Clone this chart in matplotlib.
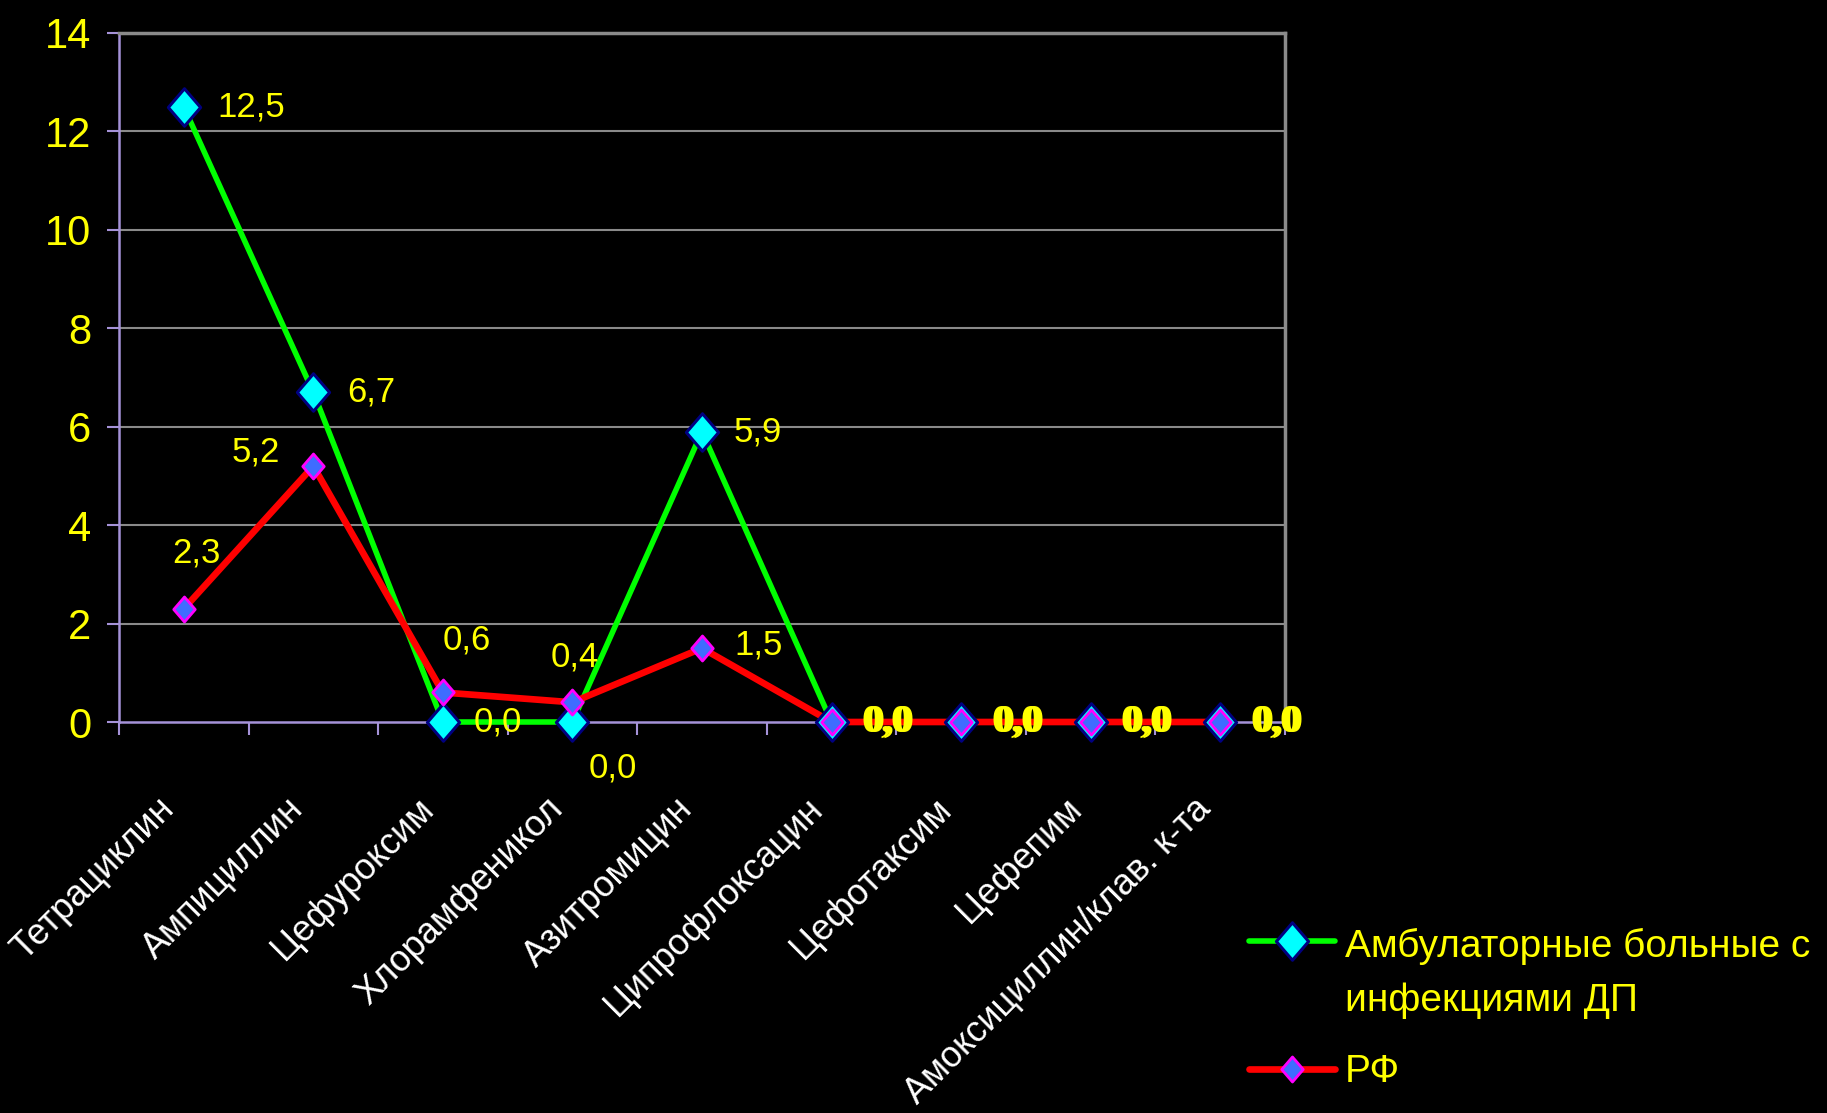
import matplotlib
matplotlib.use("Agg")
import matplotlib.pyplot as plt
from matplotlib import font_manager as fm
from matplotlib.lines import Line2D
from matplotlib.path import Path
from matplotlib.transforms import ScaledTranslation
import numpy as np

# ---- data -------------------------------------------------------------
categories = [
    "Тетрациклин", "Ампициллин", "Цефуроксим", "Хлорамфеникол",
    "Азитромицин", "Ципрофлоксацин", "Цефотаксим", "Цефепим",
    "Амоксициллин/клав. к-та",
]
ambulatory = [12.5, 6.7, 0.0, 0.0, 5.9, 0.0, 0.0, 0.0, 0.0]
rf = [2.3, 5.2, 0.6, 0.4, 1.5, 0.0, 0.0, 0.0, 0.0]
series_names = ["Амбулаторные больные с\nинфекциями ДП", "РФ"]
yticks = [0, 2, 4, 6, 8, 10, 12, 14]

# label offsets in pixels (dx, dy, ha) for each point
amb_label_pos = [(34, 0, "left"), (34, 0, "left"), (31, 0, "left"),
                 (40, -46, "center"), (32, 0, "left"), (30, 0, "left"),
                 (30, 0, "left"), (30, 0, "left"), (30, 0, "left")]
rf_label_pos = [(13, 56, "center"), (-58, 14, "center"), (24, 52, "center"),
                (2, 45, "center"), (32, 3, "left"), (33, 0, "left"),
                (33, 0, "left"), (33, 0, "left"), (33, 0, "left")]


def has_font(name):
    try:
        fm.findfont(fm.FontProperties(family=name), fallback_to_default=False)
        return True
    except Exception:
        return False


BASE = "Liberation Sans" if has_font("Liberation Sans") else "DejaVu Sans"
if has_font("Liberation Sans Narrow"):
    NARROW, cat_size, leg_size = "Liberation Sans Narrow", 31, 33
else:
    NARROW, cat_size, leg_size = BASE, 26, 28
SERIF = "Liberation Serif" if has_font("Liberation Serif") else "DejaVu Serif"

plt.rcParams["font.family"] = [BASE, "DejaVu Sans"]

W, H, DPI = 1827, 1113, 100
fig = plt.figure(figsize=(W / DPI, H / DPI), dpi=DPI, facecolor="black")


def fx(px):
    return px / W


def fy(py):
    return 1 - py / H


left, right, top, bottom = 119, 1285, 33, 722
ax = fig.add_axes([fx(left), fy(bottom), fx(right) - fx(left), fy(top) - fy(bottom)])
ax.set_facecolor("black")

x = np.arange(len(categories))
ax.set_xlim(-0.5, len(categories) - 0.5)
ax.set_ylim(0, 14)

# grid and frame
purple = "#a592d8"
grey = "#8a8a8a"
for v in yticks[1:-1]:
    ax.axhline(v, color=grey, lw=1.5, zorder=0)
ax.spines["top"].set_color(grey)
ax.spines["top"].set_linewidth(2.5)
ax.spines["right"].set_color(grey)
ax.spines["right"].set_linewidth(2.5)
ax.spines["left"].set_color(purple)
ax.spines["left"].set_linewidth(1.8)
ax.spines["bottom"].set_color(purple)
ax.spines["bottom"].set_linewidth(1.8)

ax.set_yticks(yticks)
ax.set_yticklabels([str(v) for v in yticks])
ax.tick_params(axis="y", colors=purple, length=9, width=1.5, pad=11,
               labelcolor="yellow", labelsize=30)

ax.set_xticks(x)
ax.set_xticklabels(categories, rotation=45, ha="right", va="top",
                   rotation_mode="anchor", family=[NARROW, "DejaVu Sans"],
                   fontsize=cat_size, color="white")
ax.tick_params(axis="x", length=0, pad=50)
ax.set_xticks(np.arange(len(categories) + 1) - 0.5, minor=True)
ax.tick_params(axis="x", which="minor", length=9, width=1.5, color=purple)
shift = ScaledTranslation(-27 / DPI, 0, fig.dpi_scale_trans)
for lbl in ax.get_xticklabels():
    lbl.set_transform(lbl.get_transform() + shift)

# diamond marker, slightly taller than wide
diamond = Path([(0, 1), (0.86, 0), (0, -1), (-0.86, 0), (0, 1)],
               [Path.MOVETO, Path.LINETO, Path.LINETO, Path.LINETO, Path.CLOSEPOLY])

green_kw = dict(marker=diamond, markersize=27, markerfacecolor="#00ffff",
                markeredgecolor="#000080", markeredgewidth=2.2)
red_kw = dict(marker=diamond, markersize=18, markerfacecolor="#3f6cff",
              markeredgecolor="#ff00ff", markeredgewidth=2.0)

ax.plot(x, ambulatory, color="#00ff00", lw=4.0, zorder=3, clip_on=False)
ax.plot(x, rf, color="#ff0000", lw=4.8, zorder=4, clip_on=False)
ax.plot(x, ambulatory, ls="none", zorder=5, clip_on=False, **green_kw)
ax.plot(x, rf, ls="none", zorder=6, clip_on=False, **red_kw)


def fmt(v):
    return f"{v:.1f}".replace(".", ",")


def label_series(values, positions, z):
    for i, (v, (dx, dy, ha)) in enumerate(zip(values, positions)):
        tail = i >= 5
        ax.annotate(fmt(v), (x[i], v), xytext=(dx, dy), textcoords="offset pixels",
                    ha=ha, va="center", color="yellow",
                    fontsize=29 if tail else 25,
                    family=[SERIF] if tail else [BASE],
                    fontweight="bold" if tail else "normal",
                    zorder=z, annotation_clip=False)


label_series(ambulatory, amb_label_pos, 7)
label_series(rf, rf_label_pos, 8)

# legend: handle at the first text line, text baseline of the last line
line_step = 57
leg_rows = [(941, "#00ff00", 4.0, green_kw), (1069, "#ff0000", 4.8, red_kw)]
for (py, col, lw, mk), name in zip(leg_rows, series_names):
    fig.add_artist(Line2D([fx(1249), fx(1335)], [fy(py), fy(py)],
                          transform=fig.transFigure, color=col, lw=lw,
                          solid_capstyle="round"))
    fig.add_artist(Line2D([fx(1292)], [fy(py)], transform=fig.transFigure,
                          ls="none", **mk))
    nlines = name.count("\n") + 1
    base_y = py + 13 + line_step * (nlines - 1)
    fig.text(fx(1345), fy(base_y), name, ha="left", va="baseline",
             color="yellow", fontsize=leg_size, family=[NARROW, "DejaVu Sans"],
             linespacing=1.63)

fig.savefig("out.png", dpi=DPI, facecolor="black")
